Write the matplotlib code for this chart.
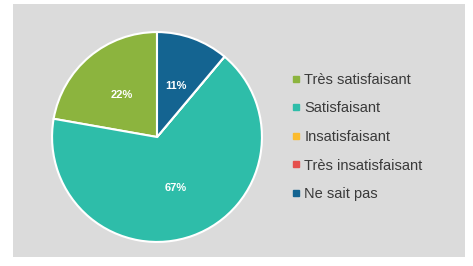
import matplotlib.pyplot as plt
from matplotlib.lines import Line2D
from matplotlib.patches import Rectangle

# answers to the survey question (counts)
labels = ["Très satisfaisant", "Satisfaisant", "Insatisfaisant",
          "Très insatisfaisant", "Ne sait pas"]
counts = [2, 6, 0, 0, 1]
colors = ["#8cb43e", "#2ebda9", "#fbbb2e", "#e5504d", "#146491"]

plt.rcParams['font.family'] = ['Liberation Sans', 'DejaVu Sans']

W, H = 473, 266
fig = plt.figure(figsize=(W / 100, H / 100), dpi=100, facecolor="white")

# grey panel behind everything
fig.patches.append(Rectangle((13 / W, 9 / H), 452 / W, 253 / H,
                             transform=fig.transFigure, facecolor="#dbdbdb",
                             edgecolor="none", zorder=-5))

# pie centred at (157, 137) px with radius 106 px
cx, cy, r = 157, 137, 106
ax = fig.add_axes([(cx - r) / W, (H - cy - r) / H, 2 * r / W, 2 * r / H],
                  zorder=2)


def pct(p):
    return f"{p:.0f}%" if p > 0.5 else ""


wedges, texts, autotexts = ax.pie(
    counts, colors=colors, startangle=90, counterclock=True,
    autopct=pct, pctdistance=0.52, radius=1,
    wedgeprops=dict(edgecolor="white", linewidth=1.5))
for t in autotexts:
    t.set_color("white")
    t.set_fontsize(8)
    t.set_fontweight("bold")
ax.set_xlim(-1.01, 1.01)
ax.set_ylim(-1.01, 1.01)
ax.set_aspect("equal")
ax.axis("off")

handles = [Line2D([], [], marker="s", linestyle="", markersize=5,
                  markerfacecolor=c, markeredgecolor=c) for c in colors]
leg = fig.legend(handles, labels, loc="center left",
                 bbox_to_anchor=(292 / W, (H - 137) / H), frameon=False,
                 fontsize=10.5, labelcolor="#3a3a3a", handlelength=0.6,
                 handletextpad=0.25, labelspacing=1.0, borderpad=0,
                 borderaxespad=0)
leg.set_zorder(3)

fig.savefig("out.png", dpi=100, facecolor="white")
